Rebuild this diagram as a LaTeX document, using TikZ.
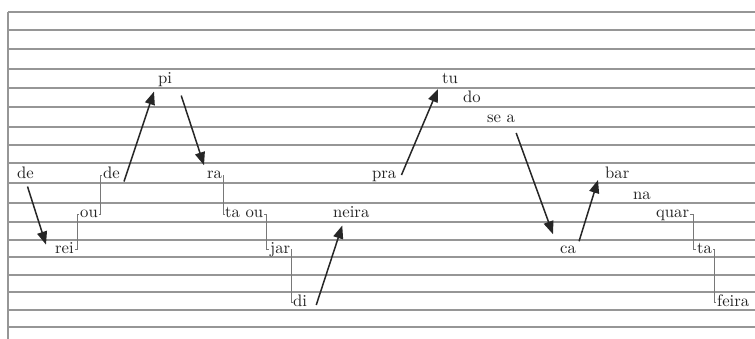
\documentclass[tikz,border=0pt]{standalone}
\usepackage{tikz}
\usepackage{xcolor}
\usetikzlibrary{
  arrows.meta,
  calc,
  positioning,
}
\definecolor{cStaff}{RGB}{150,150,150}
\definecolor{cLink}{RGB}{120,120,120}
\definecolor{cText}{RGB}{35,35,35}
\tikzset{
  % Syllable on the staff
  syl/.style={
    anchor=base west,
    inner xsep=0.5pt, inner ysep=0pt,
    font=\normalsize, text=cText,
  },
  % Staff line
  staff/.style={draw=cStaff, line width=0.8pt},
  % Melodic leap
  leap/.style={-{Triangle[length=7.8pt, width=6pt]}, line width=0.9pt, draw=black!85},
  % Stepwise link
  link/.style={draw=cLink, line width=0.4pt},
}
% tick -- vertical -- tick between two neighbouring syllables
\newcommand{\steplink}[2]{%
  \draw[link] (#1.mid east) -| ($(#1.mid east)!0.5!(#2.mid west)$) |- (#2.mid west);%
}

\begin{document}
\begin{tikzpicture}[x=0.6pt, y=-0.6pt]
\useasboundingbox (0,0) rectangle (755,339);

% ── Staff ──────────────────────────────────────────────────────────────────────
\foreach \ly in {12,30,49,69,88,107,127,145,163,183,203,222,240,257,275,292,310,327}
  \draw[staff] (8,\ly) -- (755,\ly);
\draw[staff] (8,12) -- (8,339);

% ── Syllables ──────────────────────────────────────────────────────────────────
\node[syl] (de1)   at (16,179)  {de};
\node[syl] (rei)   at (54,253)  {rei};
\node[syl] (ou)    at (79,218)  {ou};
\node[syl] (de2)   at (102,179) {de};
\node[syl] (pi)    at (157,84)  {pi};
\node[syl] (ra)    at (206,179) {ra};
\node[syl] (taou)  at (224,218) {ta ou};
\node[syl] (jar)   at (269,253) {jar};
\node[syl] (di)    at (292,306) {di};
\node[syl] (neira) at (332,218) {neira};
\node[syl] (pra)   at (371,179) {pra};
\node[syl] (tu)    at (441,84)  {tu};
\node[syl] (do)    at (462,103) {do};
\node[syl] (sea)   at (486,123) {se a};
\node[syl] (ca)    at (559,253) {ca};
\node[syl] (bar)   at (604,179) {bar};
\node[syl] (na)    at (632,199) {na};
\node[syl] (quar)  at (655,218) {quar};
\node[syl] (ta)    at (696,253) {ta};
\node[syl] (feira) at (716,306) {feira};

% ── Stepwise links ─────────────────────────────────────────────────────────────
\steplink{rei}{ou}
\steplink{ou}{de2}
\steplink{ra}{taou}
\steplink{taou}{jar}
\steplink{jar}{di}
\steplink{quar}{ta}
\steplink{ta}{feira}

% ── Leaps ──────────────────────────────────────────────────────────────────────
\draw[leap] ($(de1.south)+(2,7)$) -- ($(rei.west)+(-8,-3)$);
\draw[leap] ($(de2.south east)+(3,2)$) -- ($(pi.south west)+(-3,4)$);
\draw[leap] ($(pi.south east)+(8,8)$) -- ($(ra.north west)+(-2,-6)$);
\draw[leap] ($(di.base east)+(8,-1)$) -- ($(neira.south)+(-9,7)$);
\draw[leap] ($(pra.base east)+(4,-4)$) -- ($(tu.base west)+(-3,5)$);
\draw[leap] ($(sea.base east)+(0,10)$) -- ($(ca.north west)+(-6,-11)$);
\draw[leap] ($(ca.north east)+(2,-4)$) -- ($(bar.base west)+(-6,1)$);

\end{tikzpicture}
\end{document}
